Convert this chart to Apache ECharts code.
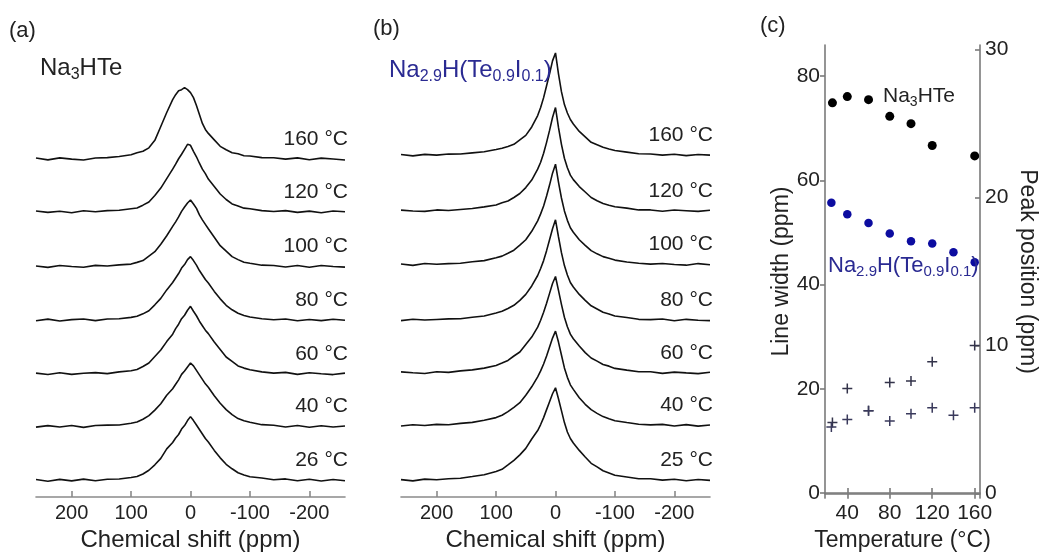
<!DOCTYPE html>
<html><head><meta charset="utf-8">
<script src="https://cdn.jsdelivr.net/npm/echarts@6/dist/echarts.min.js"></script>
<style>html,body{margin:0;padding:0;background:#fff}#c{width:1040px;height:557px}</style>
</head><body><div id="c"></div>
<script>
// ---------- DATA ----------
// chemical-shift sample points (ppm) shared by all spectra
const ppm = [260,240,220,200,180,160,140,120,100,90,80,70,60,50,40,30,25,20,15,10,5,0,-5,-10,-15,-20,-25,-30,-40,-50,-60,-70,-80,-90,-100,-120,-140,-160,-180,-200,-220,-240,-260];

// (a) Na3HTe spectra, intensity above baseline (top to bottom)
const labelsA = ['160 °C','120 °C','100 °C','80 °C','60 °C','40 °C','26 °C'];
const a160 = [1.2,-0.6,1.4,0.1,-0.8,1.3,1.6,2.8,4.5, 6.5,8,11.5,19,33,47,60, 65,69,70,72,70,67,62,54,45,36,30, 26,19.5,13,9.5,6.5,5.5,3.5, 3.2,1.6,1.5,0.1,1.4,-0.5,1.1,0.2,-0.7];
const a120 = [0.9,-0.5,0.7,-0.9,1.2,0.1,1.3,1.6,3.2, 4,6.8,10,16.5,24,33.5,43, 48,53.5,58,63,68,67,61,55.5,49,43,38.5, 33,25.5,18,12.5,8,6,3.8, 3.1,1.3,0.4,1.3,-0.5,0.8,-0.8,0.9,0.1];
const a100 = [0.6,-0.8,1.0,0.0,-0.7,1.2,0.6,1.7,2.5, 4.2,6,10.5,15,22.5,31,40.5, 45,50,55.5,60,64,67,63,58.5,52,47,42.5, 38,29.5,21,15.5,10,7,4.3, 3.3,1.4,1.1,-0.5,1.0,-0.7,1.1,0.0,-0.6];
const a80  = [-0.5,1.1,-0.8,0.6,1.2,-0.4,1.3,1.5,2.9, 4,6.4,9.5,15.5,22,30.5,38, 42.5,47,52.5,56,61,64,60,55.5,50,45.5,41, 37.5,29,21.5,15,10.5,7,4.8, 3.2,1.5,0.4,1.3,-0.6,0.8,-0.4,1.0,-0.1];
const a60  = [0.8,-0.7,1.2,-0.5,0.7,1.3,0.3,2.0,3.2, 4.5,7.4,11,17.5,24,32.5,40, 45.5,50,55.5,59,64,68,63,58.5,53,48.5,44, 40.5,32,24.5,17,12.5,8,5.8, 4.2,2.0,0.8,1.5,-0.5,1.1,0.1,-0.7,0.8];
const a40  = [-0.6,0.9,-0.4,1.1,-0.8,1.0,1.4,1.6,3.3, 4.5,7.3,11,16.5,23,31.5,38, 42.5,47,52.5,56,60,64,61,56.5,52,47.5,43, 39.5,31,23.5,17,12,8,5.8, 4.3,1.9,1.3,-0.4,1.0,-0.7,0.8,-0.5,0.6];
const a26  = [0.7,-1.0,0.8,-0.7,1.1,-0.5,0.9,1.2,2.8, 3.8,6.3,10,15.5,22,31.5,38, 42.5,46,51.5,55,60,64,60,55.5,51,46.5,42, 38.5,30,22.5,16,11.5,7.5,5.3, 3.5,2.2,0.5,1.3,-0.6,0.9,-0.8,0.7,-0.5];

// (b) Na2.9H(Te0.9I0.1) spectra
const labelsB = ['160 °C','120 °C','100 °C','80 °C','60 °C','40 °C','25 °C'];
const b160 = [0.7,-0.6,0.9,0.1,1.2,1.3,2.4,3.5,5.8, 7,8.8,11,15.5,20,28.5,40, 48,58,70,82,95,103,82,64,51,42.5,36, 31.5,24,18.5,13,10.5,8,6.3, 4.8,3.2,1.6,1.3,0.1,1.1,-0.4,0.8,0.1];
const b120 = [0.8,-0.1,-0.5,1.0,0.4,1.5,2.4,4.1,6, 8.3,10,13.5,17.5,23.5,31,42, 49,58,69,81,94,104,84,67,53,43.5,36, 31.5,24.5,19,13.5,10.3,7.5,5.8, 4.2,2.8,1.0,1.0,-0.4,0.9,0.2,-0.5,0.7];
const b100 = [0.5,-0.8,1.1,0.3,1.0,1.4,2.8,4,6.8, 8.5,11.4,14.5,19.5,25,33.5,44, 51,59,69,80,92,101,83,67,54,44.5,37, 32.5,25,19.4,14,10.8,8,6.3, 4.5,2.6,1.3,0.5,1.1,0.0,-0.6,1.0,-0.2];
const b80  = [-0.4,1.0,0.2,0.8,1.4,1.5,3.0,4.2,7.3, 9,11.8,15,20,26,34.5,45, 52,60,70,81,92,101,84,68,55,45.5,38, 33.4,26,20,14.5,11.3,8,6.3, 4.2,2.7,0.9,0.6,1.2,-0.5,0.9,-0.1,-0.4];
const b60  = [1.0,0.1,-0.6,1.1,0.5,2.0,3,4.8,7.5, 9.9,12.5,17,21,28.5,36,46, 53,61,70,80,90,97,83,69,56,46.5,39, 34.4,27,20.4,15,11.8,8.5,6.8, 4.5,2.8,1.2,1.1,-0.5,0.8,0.0,-0.7,0.6];
const b40  = [-0.5,0.8,0.0,1.2,0.8,2.2,3.2,5.3,8, 10.4,14,18.4,23,30.5,39,49, 55,62,70,79,88,95,84,71,58,48.5,41, 36.4,28,21.4,16,12.3,9,6.8, 4.8,3.0,1.3,0.7,1.2,-0.4,0.9,-0.6,0.5];
const b25  = [0.6,-0.7,1.1,0.5,1.5,2.0,3.7,5.5,8.8, 11,15.4,20,25.5,32,41.5,50, 56,63,71,79,87,93,82,70,58,48.5,42, 37.4,30,23.4,17,13.4,9.5,7.3, 5,3.2,1.4,1.4,0.1,1.0,-0.5,0.7,-0.2];

// (c) line width and peak position vs temperature
const tempNa3  = [26,40,60,80,100,120,160];
const widthNa3 = [74.9,76.1,75.5,72.3,70.9,66.7,64.7];
const shiftNa3 = [4.8,7.1,5.6,7.5,7.6,8.9,10.0];
const tempNa29  = [25,40,60,80,100,120,140,160];
const widthNa29 = [55.7,53.5,51.8,49.8,48.3,47.9,46.2,44.3];
const shiftNa29 = [4.5,5.0,5.6,4.9,5.4,5.8,5.3,5.8];

// tick labels
const shiftTicks = [200,100,0,-100,-200];
const tempTicks = [40,80,120,160];
const widthTicks = [0,20,40,60,80];
const posTicks = [0,10,20,30];

// ---------- LAYOUT ----------
const specsA = [a160,a120,a100,a80,a60,a40,a26];
const specsB = [b160,b120,b100,b80,b60,b40,b25];
const STACK_A = [340,287,232,178,124,71,17];
const STACK_B = [344,288,234,178,125,72,17];
const LABEL_LIFT = 20;
const FONT = 'Liberation Sans, Arial, sans-serif';
const TXT = '#222';
const BLUE = '#2a2a92';
const AXC = '#8a8a8a';

function specAxis(gi) {
  return {
    gridIndex: gi, type: 'value', min: -260, max: 260, inverse: true,
    axisLine: {show: true, lineStyle: {color: AXC, width: 1.6}},
    axisTick: {show: true, inside: true, length: 6, customValues: shiftTicks, lineStyle: {color: AXC, width: 1.6}},
    axisLabel: {show: true, customValues: shiftTicks, fontSize: 20, color: TXT, fontFamily: FONT, margin: 6},
    splitLine: {show: false},
    name: 'Chemical shift (ppm)', nameLocation: 'middle', nameGap: 27,
    nameTextStyle: {fontSize: 24, color: TXT, fontFamily: FONT}
  };
}

const series = [];
function addSpectra(specs, stack, labels, axIdx) {
  specs.forEach((s, k) => {
    series.push({
      type: 'line', xAxisIndex: axIdx, yAxisIndex: axIdx, symbol: 'none', silent: true,
      data: ppm.map((p, i) => [p, stack[k] + s[i]]),
      lineStyle: {color: '#111', width: 1.6}
    });
  });
  series.push({
    type: 'scatter', xAxisIndex: axIdx, yAxisIndex: axIdx, clip: false, silent: true,
    symbolSize: 0.1, itemStyle: {color: 'transparent', opacity: 1},
    data: labels.map((l, k) => ({value: [-260, stack[k] + LABEL_LIFT], name: l})),
    label: {show: true, position: 'left', distance: -3, formatter: p => p.name,
      fontSize: 21, color: TXT, fontFamily: FONT, textBorderWidth: 0}
  });
}
addSpectra(specsA, STACK_A, labelsA, 0);
addSpectra(specsB, STACK_B, labelsB, 1);

const plusPath = 'path://M4.25,0H5.75V10H4.25Z M0,4.25H10V5.75H0Z';
series.push(
  {type: 'scatter', xAxisIndex: 2, yAxisIndex: 3, symbol: plusPath, symbolSize: 10,
   itemStyle: {color: '#33334a', opacity: 1}, data: tempNa3.map((t, i) => [t, shiftNa3[i]])},
  {type: 'scatter', xAxisIndex: 2, yAxisIndex: 3, symbol: plusPath, symbolSize: 10,
   itemStyle: {color: '#3a3a5c', opacity: 1}, data: tempNa29.map((t, i) => [t, shiftNa29[i]])},
  {type: 'scatter', xAxisIndex: 2, yAxisIndex: 2, symbol: 'circle', symbolSize: 9,
   itemStyle: {color: '#000', opacity: 1}, data: tempNa3.map((t, i) => [t, widthNa3[i]])},
  {type: 'scatter', xAxisIndex: 2, yAxisIndex: 2, symbol: 'circle', symbolSize: 8.5,
   itemStyle: {color: '#0c0ca0', opacity: 1}, data: tempNa29.map((t, i) => [t, widthNa29[i]])}
);

const boxLine = {show: true, lineStyle: {color: '#7a7a7a', width: 1.6}};
const boxTick = (vals, inside) => ({show: true, inside: inside, length: 5, customValues: vals, lineStyle: {color: '#7a7a7a', width: 1.6}});
const lbl = (vals) => ({show: true, customValues: vals, fontSize: 21, color: TXT, fontFamily: FONT, margin: 5});

function rich(text, x, y, color, big, small) {
  return {type: 'text', x: x, y: y, z: 100, silent: true, style: {
    text: text, fill: color, align: 'left', verticalAlign: 'middle',
    rich: {
      n: {fontSize: big, fontFamily: FONT, fill: color, lineHeight: big + 5, verticalAlign: 'middle'},
      s: {fontSize: small, fontFamily: FONT, fill: color, lineHeight: small, verticalAlign: 'bottom'}
    }
  }};
}
function plain(text, x, y) {
  return {type: 'text', x: x, y: y, z: 100, silent: true, style: {
    text: text, fill: TXT, fontSize: 22, fontFamily: FONT, align: 'left', verticalAlign: 'middle'}};
}

const option = {
  backgroundColor: '#fff',
  animation: false,
  grid: [
    {left: 36, top: 40, width: 309, height: 460},
    {left: 401, top: 40, width: 309, height: 460},
    {left: 825, top: 45, width: 155, height: 455}
  ],
  xAxis: [
    specAxis(0), specAxis(1),
    {gridIndex: 2, type: 'value', min: 19, max: 165, axisLine: boxLine, axisTick: boxTick(tempTicks, true),
     axisLabel: lbl(tempTicks), splitLine: {show: false},
     name: 'Temperature (°C)', nameLocation: 'middle', nameGap: 29,
     nameTextStyle: {fontSize: 23, color: TXT, fontFamily: FONT}},
    {gridIndex: 2, type: 'value', position: 'top', min: 19, max: 165, axisLine: boxLine,
     axisTick: boxTick(tempTicks, true), axisLabel: {show: false}, splitLine: {show: false}}
  ],
  yAxis: [
    {gridIndex: 0, type: 'value', min: 0, max: 460, show: false},
    {gridIndex: 1, type: 'value', min: 0, max: 460, show: false},
    {gridIndex: 2, type: 'value', min: -1, max: 86, position: 'left', axisLine: boxLine,
     axisTick: boxTick(widthTicks, false), axisLabel: lbl(widthTicks), splitLine: {show: false},
     name: 'Line width (ppm)', nameLocation: 'middle', nameGap: 32, nameRotate: 90,
     nameTextStyle: {fontSize: 23, color: TXT, fontFamily: FONT}},
    {gridIndex: 2, type: 'value', min: -0.3, max: 30.3, position: 'right', axisLine: boxLine,
     axisTick: boxTick(posTicks, true), axisLabel: lbl(posTicks), splitLine: {show: false},
     name: 'Peak position (ppm)', nameLocation: 'middle', nameGap: 36, nameRotate: -90,
     nameTextStyle: {fontSize: 23, color: TXT, fontFamily: FONT}}
  ],
  series: series,
  graphic: [
    plain('(a)', 9, 31),
    rich('{n|Na}{s|3}{n|HTe}', 40, 68, TXT, 24, 16),
    plain('(b)', 373, 29),
    rich('{n|Na}{s|2.9}{n|H(Te}{s|0.9}{n|I}{s|0.1}{n|)}', 389, 70, BLUE, 24, 16),
    plain('(c)', 760, 26),
    rich('{n|Na}{s|3}{n|HTe}', 883, 96, TXT, 21, 14),
    rich('{n|Na}{s|2.9}{n|H(Te}{s|0.9}{n|I}{s|0.1}{n|)}', 828, 266, BLUE, 22, 15)
  ]
};
const chart = echarts.init(document.getElementById('c'), null, {renderer: 'canvas'});
chart.setOption(option);
</script>
</body></html>
